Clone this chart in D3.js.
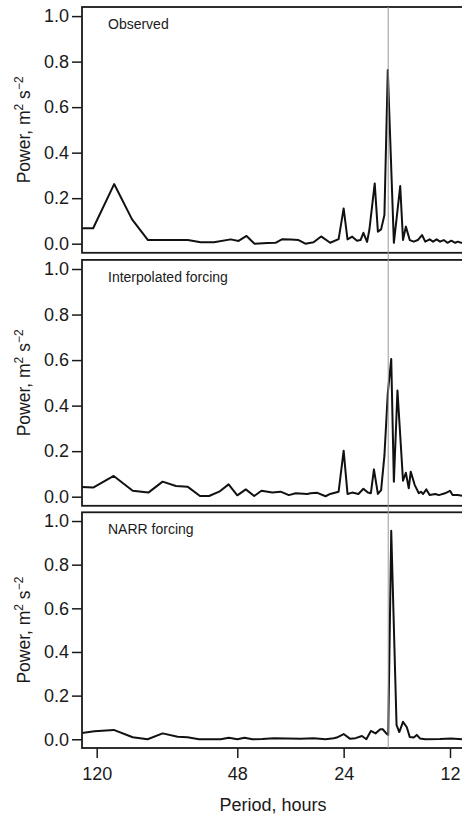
<!DOCTYPE html>
<html>
<head>
<meta charset="utf-8">
<script src="https://cdn.jsdelivr.net/npm/d3@7"></script>
<style>
  body { margin: 0; background: #fff; }
  svg text { font-family: "Liberation Sans", Arial, sans-serif; fill: #1a1a1a; }
</style>
</head>
<body>
<div id="vis"></div>
<script>
const FRAME_WIDTH = 462;
const FRAME_HEIGHT = 816;

// data (period in hours, power in m^2 s^-2)
const PERIOD_TICKS = [120, 48, 24, 12];
const POWER_TICKS = [0, 0.2, 0.4, 0.6, 0.8, 1.0];
const INERTIAL_PERIOD = 17.95;
const PANEL_LABELS = ["Observed", "Interpolated forcing", "NARR forcing"];

const OBS_PERIOD = [144, 122.8, 107.1, 95.3, 85.9, 66.3, 60.9, 55.9, 50.1, 47.6, 45.2, 42.9, 39.4, 37.4,
  35.8, 33.9, 32.2, 30.8, 29.2, 27.8, 26.2, 24.8, 24.0, 23.4, 22.7, 22.0, 21.5, 21.1, 20.6, 20.3,
  19.6, 19.2, 18.8, 18.4, 18.0, 17.3, 16.6, 16.3, 16.0, 15.6, 15.2, 14.8, 14.4, 14.1, 13.7, 13.4,
  13.1, 12.8, 12.5, 12.2, 11.9, 11.6, 11.4, 11.1];
const OBS_POWER = [0.068, 0.068, 0.262, 0.107, 0.016, 0.016, 0.006, 0.006, 0.019, 0.012, 0.034, 0.0, 0.003, 0.004,
  0.02, 0.018, 0.016, 0.0, 0.006, 0.032, 0.004, 0.02, 0.155, 0.019, 0.031, 0.013, 0.016, 0.048, 0.008, 0.06,
  0.265, 0.053, 0.063, 0.126, 0.763, 0.004, 0.253, 0.016, 0.075, 0.016, 0.009, 0.016, 0.038, 0.009, 0.019, 0.009,
  0.019, 0.009, 0.016, 0.004, 0.013, 0.004, 0.009, 0.003];

const INTERP_PERIOD = [144, 122.8, 107.4, 94.9, 85.7, 78.1, 71.6, 66.4, 61.2, 57.7, 54.0, 50.8, 48.0, 45.4,
  43.0, 41.0, 38.2, 36.2, 34.3, 32.8, 30.4, 29.8, 28.5, 27.0, 26.2, 24.8, 24.0, 23.4, 22.7, 21.8,
  21.1, 20.5, 20.1, 19.7, 19.2, 18.8, 18.4, 18.0, 17.6, 17.3, 16.9, 16.3, 16.0, 15.7, 15.5, 15.1,
  14.7, 14.5, 14.3, 14.0, 13.7, 13.2, 12.9, 12.4, 12.0, 11.8, 11.4, 11.1];
const INTERP_POWER = [0.045, 0.04, 0.091, 0.026, 0.018, 0.066, 0.047, 0.044, 0.003, 0.003, 0.022, 0.054, 0.006, 0.032,
  0.003, 0.026, 0.018, 0.022, 0.007, 0.015, 0.012, 0.015, 0.017, 0.002, 0.012, 0.022, 0.202, 0.012, 0.018, 0.012,
  0.035, 0.018, 0.015, 0.12, 0.012, 0.029, 0.18, 0.454, 0.605, 0.066, 0.466, 0.07, 0.105, 0.037, 0.11, 0.051,
  0.015, 0.022, 0.012, 0.032, 0.007, 0.012, 0.007, 0.015, 0.026, 0.007, 0.007, 0.004];

const NARR_PERIOD = [140, 121.8, 107.4, 94.9, 86.1, 78.1, 70.8, 66.4, 61.6, 53.5, 50.7, 48.0, 45.8, 43.5,
  40.8, 37.8, 34.7, 31.8, 29.2, 27.0, 25.6, 25.1, 24.0, 23.0, 22.2, 21.3, 20.7, 20.1, 19.5, 18.9,
  18.6, 18.1, 17.95, 17.6, 17.0, 16.7, 16.3, 15.9, 15.6, 15.2, 14.9, 14.6, 14.1, 12.8, 11.9, 11.1];
const NARR_POWER = [0.023, 0.037, 0.043, 0.009, 0.0, 0.027, 0.012, 0.009, 0.0, 0.0, 0.007, 0.0, 0.007, 0.0,
  0.001, 0.005, 0.003, 0.002, 0.005, 0.0, 0.005, 0.008, 0.024, 0.002, 0.005, 0.015, 0.0, 0.038, 0.027, 0.046,
  0.046, 0.024, 0.02, 0.955, 0.065, 0.033, 0.08, 0.055, 0.01, 0.008, 0.02, 0.004, 0.0, 0.001, 0.004, 0.0];

const SERIES = [
  {period: OBS_PERIOD, power: OBS_POWER},
  {period: INTERP_PERIOD, power: INTERP_POWER},
  {period: NARR_PERIOD, power: NARR_POWER}
];

// panel boxes (pixels)
const BOX_LEFT = 82;
const BOX_RIGHT = 472;
const PANELS = [
  {top: 7, bottom: 252.8},
  {top: 259.9, bottom: 505.8},
  {top: 512.3, bottom: 748}
];

const svg = d3.select("#vis")
  .append("svg")
    .attr("width", FRAME_WIDTH)
    .attr("height", FRAME_HEIGHT);

const xScale = d3.scaleLog()
  .domain([120, 12])
  .range([96.7, 450]);

const line = d3.line()
  .x(d => xScale(d[0]))
  .y(d => d[2](d[1]));

PANELS.forEach((p, i) => {
  const yScale = d3.scaleLinear()
    .domain([-0.04, 1.04])
    .range([p.bottom, p.top]);

  svg.append("clipPath")
    .attr("id", "clip" + i)
    .append("rect")
      .attr("x", BOX_LEFT)
      .attr("y", p.top)
      .attr("width", BOX_RIGHT - BOX_LEFT)
      .attr("height", p.bottom - p.top);

  const pts = SERIES[i].period.map((per, j) => [per, SERIES[i].power[j], yScale]);

  svg.append("path")
    .datum(pts)
    .attr("clip-path", "url(#clip" + i + ")")
    .attr("fill", "none")
    .attr("stroke", "#111")
    .attr("stroke-width", 2)
    .attr("stroke-linejoin", "round")
    .attr("d", line);

  // y axis
  const yAxis = svg.append("g")
    .attr("transform", "translate(" + BOX_LEFT + ",0)")
    .call(d3.axisLeft(yScale).tickValues(POWER_TICKS).tickFormat(d3.format(".1f")).tickSize(10).tickPadding(3));
  yAxis.select(".domain").remove();
  yAxis.selectAll("line").attr("stroke", "#1a1a1a").attr("stroke-width", 1.5);
  yAxis.selectAll("text").style("font-size", "18px").attr("fill", "#1a1a1a");

  svg.append("text")
    .attr("x", 108)
    .attr("y", p.top + 22)
    .style("font-size", "14px")
    .text(PANEL_LABELS[i]);

  // y axis title with superscripts
  const cy = (p.top + p.bottom) / 2;
  const title = svg.append("text")
    .attr("transform", "translate(29.5," + cy + ") rotate(-90)")
    .attr("text-anchor", "middle")
    .style("font-size", "17.5px");
  title.append("tspan").text("Power, m");
  title.append("tspan").attr("dy", -7).style("font-size", "12px").text("2");
  title.append("tspan").attr("dy", 7).text(" s");
  title.append("tspan").attr("dy", -7).style("font-size", "12px").text("\u22122");

  svg.append("rect")
    .attr("x", BOX_LEFT)
    .attr("y", p.top)
    .attr("width", BOX_RIGHT - BOX_LEFT)
    .attr("height", p.bottom - p.top)
    .attr("fill", "none")
    .attr("stroke", "#1a1a1a")
    .attr("stroke-width", 1.8);
});

// inertial period marker across all panels
svg.append("line")
  .attr("x1", xScale(INERTIAL_PERIOD))
  .attr("x2", xScale(INERTIAL_PERIOD))
  .attr("y1", PANELS[0].top)
  .attr("y2", PANELS[2].bottom)
  .attr("stroke", "#9a9a9a")
  .attr("stroke-width", 1);

// x axis on bottom panel
const xAxis = svg.append("g")
  .attr("transform", "translate(0," + PANELS[2].bottom + ")")
  .call(d3.axisBottom(xScale).tickValues(PERIOD_TICKS).tickFormat(d3.format("d")).tickSize(10).tickPadding(9));
xAxis.select(".domain").remove();
xAxis.selectAll("line").attr("stroke", "#1a1a1a").attr("stroke-width", 1.5);
xAxis.selectAll("text").style("font-size", "18px").attr("fill", "#1a1a1a");

svg.append("text")
  .attr("x", 273)
  .attr("y", 811)
  .attr("text-anchor", "middle")
  .style("font-size", "18px")
  .text("Period, hours");
</script>
</body>
</html>
